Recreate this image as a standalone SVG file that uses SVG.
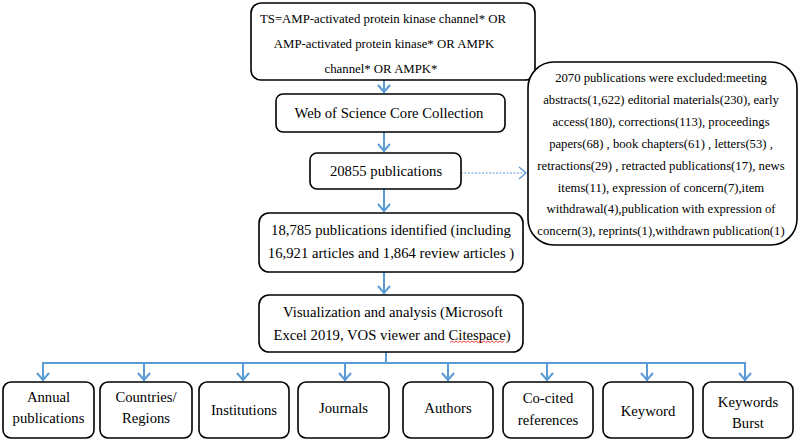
<svg xmlns="http://www.w3.org/2000/svg" width="800" height="444" viewBox="0 0 800 444">
<style>
.box{fill:#fff;stroke:#000;stroke-width:1.6}
.t{font-family:"Liberation Serif","Times New Roman",serif;font-size:14.7px;fill:#000;text-anchor:middle}
.s{font-size:12.8px}
.x{font-size:12.7px}
.c{fill:none;stroke:#5B9BD5;stroke-width:2}
.d{fill:none;stroke:#5B9BD5;stroke-width:1.2;stroke-dasharray:2 1.5}
</style>
<defs>
<marker id="ah" markerUnits="userSpaceOnUse" markerWidth="12" markerHeight="16" refX="9" refY="7" orient="auto">
<path d="M1,1 L8,7 L1,13" fill="none" stroke="#5B9BD5" stroke-width="2"/>
</marker>
<marker id="ahd" markerUnits="userSpaceOnUse" markerWidth="12" markerHeight="16" refX="9" refY="7" orient="auto">
<path d="M1,1 L8,7 L1,13" fill="none" stroke="#5B9BD5" stroke-width="1.3"/>
</marker>
</defs>

<g id="connectors">
<line class="c" x1="384" y1="80" x2="384" y2="93" marker-end="url(#ah)"/>
<line class="c" x1="384" y1="132" x2="384" y2="152" marker-end="url(#ah)"/>
<line class="c" x1="384" y1="189" x2="384" y2="212" marker-end="url(#ah)"/>
<line class="c" x1="384" y1="272" x2="384" y2="294" marker-end="url(#ah)"/>
<line class="d" x1="461" y1="173" x2="527" y2="173" marker-end="url(#ahd)"/>
<polyline class="c" points="386,352 386,363"/>
<line class="c" x1="43" y1="363" x2="745" y2="363"/>
<line class="c" x1="43" y1="362" x2="43" y2="381" marker-end="url(#ah)"/>
<line class="c" x1="144" y1="363" x2="144" y2="381" marker-end="url(#ah)"/>
<line class="c" x1="243" y1="363" x2="243" y2="381" marker-end="url(#ah)"/>
<line class="c" x1="345" y1="363" x2="345" y2="381" marker-end="url(#ah)"/>
<line class="c" x1="448" y1="363" x2="448" y2="381" marker-end="url(#ah)"/>
<line class="c" x1="547" y1="363" x2="547" y2="381" marker-end="url(#ah)"/>
<line class="c" x1="647" y1="363" x2="647" y2="381" marker-end="url(#ah)"/>
<line class="c" x1="745" y1="362" x2="745" y2="381" marker-end="url(#ah)"/>
</g>

<g id="query">
<rect class="box" x="251" y="3" width="284" height="77" rx="10"/>
<text class="t s" x="383" y="23">TS=AMP-activated protein kinase channel* OR</text>
<text class="t s" x="384" y="48">AMP-activated protein kinase* OR AMPK</text>
<text class="t s" x="381" y="73">channel* OR AMPK*</text>
</g>

<g id="wos">
<rect class="box" x="276" y="94" width="229" height="38" rx="7"/>
<text class="t" x="389" y="118">Web of Science Core Collection</text>
</g>

<g id="pubs">
<rect class="box" x="310" y="153" width="151" height="36" rx="7"/>
<text class="t" x="386" y="176">20855 publications</text>
</g>

<g id="excluded">
<rect class="box" x="528" y="62" width="269" height="183" rx="26"/>
<text class="t x" x="661" y="82">2070 publications were excluded:meeting</text>
<text class="t x" x="661" y="104">abstracts(1,622) editorial materials(230), early</text>
<text class="t x" x="661" y="126">access(180), corrections(113), proceedings</text>
<text class="t x" x="661" y="148">papers(68) , book chapters(61) , letters(53) ,</text>
<text class="t x" x="661" y="170">retractions(29) , retracted publications(17), news</text>
<text class="t x" x="661" y="192">items(11), expression of concern(7),item</text>
<text class="t x" x="661" y="213">withdrawal(4),publication with expression of</text>
<text class="t x" x="661" y="235">concern(3), reprints(1),withdrawn publication(1)</text>
</g>

<g id="identified">
<rect class="box" x="259" y="213" width="264" height="59" rx="10"/>
<text class="t" x="391" y="235">18,785 publications identified (including</text>
<text class="t" x="391" y="258">16,921 articles and 1,864 review articles )</text>
</g>

<g id="analysis">
<rect class="box" x="259" y="295" width="264" height="57" rx="10"/>
<text class="t" x="393" y="317">Visualization and analysis (Microsoft</text>
<text class="t" x="392" y="340">Excel 2019, VOS viewer and Citespace)</text>
<path d="M450,342.5 l2,-1.5 l2,1.5 l2,-1.5 l2,1.5 l2,-1.5 l2,1.5 l2,-1.5 l2,1.5 l2,-1.5 l2,1.5 l2,-1.5 l2,1.5 l2,-1.5 l2,1.5 l2,-1.5 l2,1.5 l2,-1.5 l2,1.5 l2,-1.5 l2,1.5 l2,-1.5 l2,1.5 l2,-1.5 l2,1.5 l2,-1.5 l2,1.5 l2,-1.5" fill="none" stroke="#e02020" stroke-width="0.8"/>
</g>

<g id="annual">
<rect class="box" x="3" y="382" width="91" height="56" rx="8"/>
<text class="t" x="48.5" y="402">Annual</text>
<text class="t" x="48.5" y="423">publications</text>
</g>
<g id="countries">
<rect class="box" x="100" y="382" width="92" height="56" rx="8"/>
<text class="t" x="146" y="402">Countries/</text>
<text class="t" x="146" y="423">Regions</text>
</g>
<g id="institutions">
<rect class="box" x="199" y="382" width="90" height="56" rx="8"/>
<text class="t" x="244" y="415">Institutions</text>
</g>
<g id="journals">
<rect class="box" x="298" y="382" width="91" height="56" rx="8"/>
<text class="t" x="343.5" y="413">Journals</text>
</g>
<g id="authors">
<rect class="box" x="403" y="382" width="90" height="56" rx="8"/>
<text class="t" x="448" y="413">Authors</text>
</g>
<g id="cocited">
<rect class="box" x="503" y="382" width="90" height="56" rx="8"/>
<text class="t" x="548" y="403">Co-cited</text>
<text class="t" x="548" y="425">references</text>
</g>
<g id="keyword">
<rect class="box" x="603" y="382" width="90" height="56" rx="8"/>
<text class="t" x="648" y="416">Keyword</text>
</g>
<g id="burst">
<rect class="box" x="703" y="382" width="90" height="56" rx="8"/>
<text class="t" x="748" y="407">Keywords</text>
<text class="t" x="748" y="428">Burst</text>
</g>
</svg>
